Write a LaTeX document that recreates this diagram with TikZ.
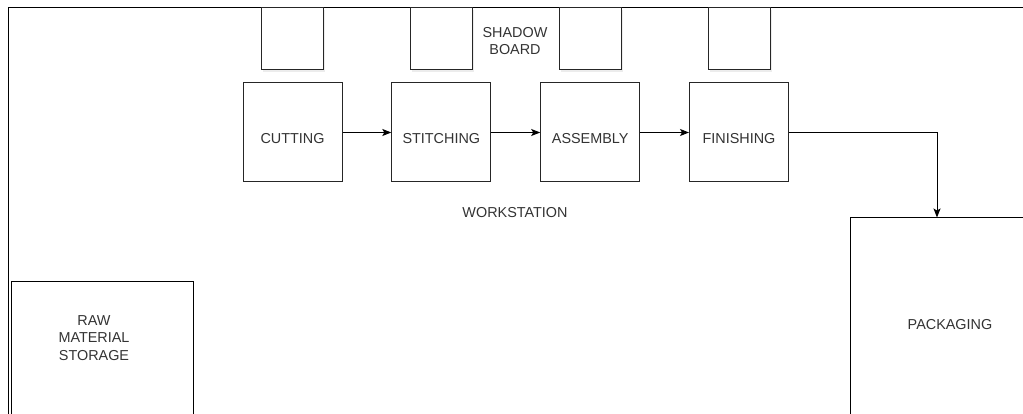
\documentclass[tikz,border=0pt]{standalone}
\usepackage{fontspec}
\setmainfont{Liberation Sans}
\usetikzlibrary{arrows.meta,shadows}

\tikzset{
  station/.style={draw=black!85, line width=1pt, fill=white, minimum width=99pt, minimum height=99pt,
    inner sep=0pt, text=black!80, text height=22pt, text depth=0pt},
  board/.style={draw=black!85, line width=1pt, fill=white, minimum width=62pt, minimum height=62pt,
    drop shadow={shadow xshift=1.5pt, shadow yshift=-2.5pt, opacity=0.15}},
  zone/.style={draw=black, line width=1pt, inner sep=0pt},
  tag/.style={text=black!80, align=center, inner sep=0pt}
}

\begin{document}
\begin{tikzpicture}[x=1pt, y=-1pt, >={Stealth[length=9pt,width=7pt,inset=2pt]},
  font=\fontsize{14.4}{17.5}\selectfont]
\useasboundingbox (0,0) rectangle (1023,414);
\clip (0,0) rectangle (1023,414);
%--- Floor outline ---
\draw[line width=1pt] (8,430) -- (8,8) -- (1040,8);
%--- Shadow boards ---
\node[board] (sb1) at (292,39) {};
\node[board] (sb2) at (441,39) {};
\node[board] (sb3) at (590,39) {};
\node[board] (sb4) at (739,39) {};
\node[tag] (sblabel) at (515,41) {SHADOW\\BOARD};
%--- Workstations ---
\node[station] (cut) at (292.5,132.5) {CUTTING};
\node[station] (stitch) at (441.3,132.5) {STITCHING};
\node[station] (assem) at (590.2,132.5) {ASSEMBLY};
\node[station] (finish) at (739,132.5) {FINISHING};
\node[tag] (wslabel) at (515,213) {WORKSTATION};
% Flow
\draw[->, line width=1pt] (cut) -- (stitch);
\draw[->, line width=1pt] (stitch) -- (assem);
\draw[->, line width=1pt] (assem) -- (finish);
%--- Storage and packaging areas ---
\node[zone, minimum width=182pt, minimum height=200pt] (raw) at (102,381) {};
\node[tag] (rawlabel) at (94,338) {RAW\\MATERIAL\\STORAGE};
\node[zone, minimum width=200pt, minimum height=214pt, text=black!80] (pack) at (950,325) {PACKAGING};
\draw[->, line width=1pt] (finish.east) -| ([xshift=-13pt]pack.north);
\end{tikzpicture}
\end{document}
